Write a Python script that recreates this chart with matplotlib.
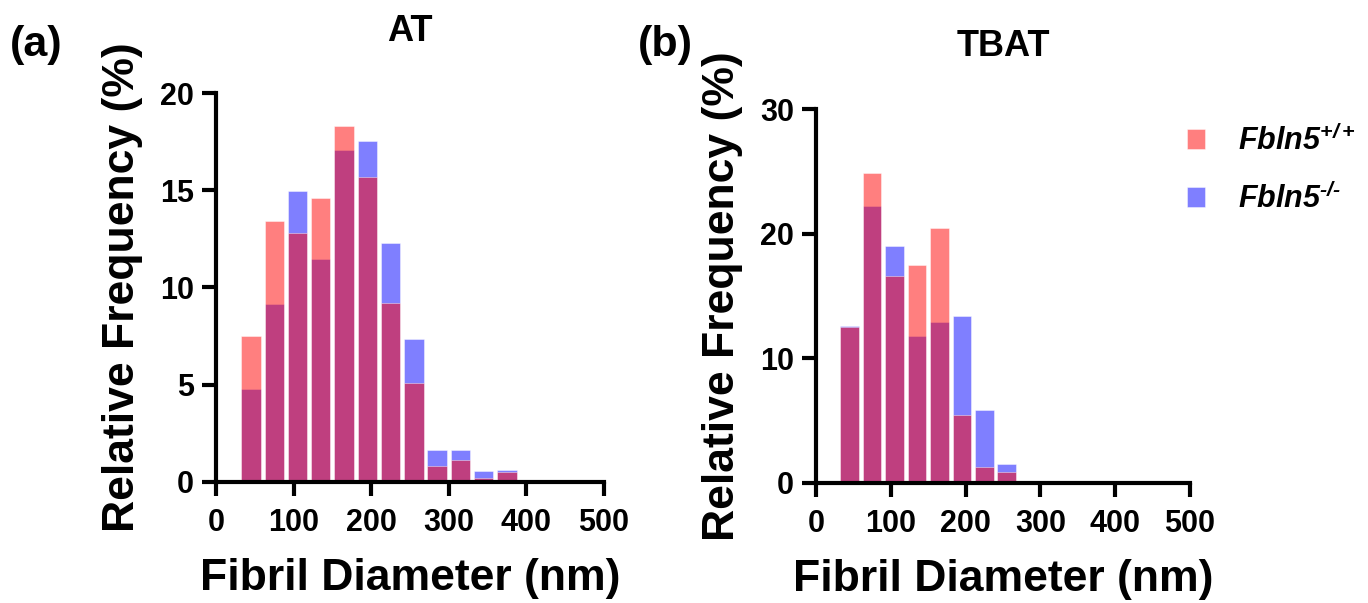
import matplotlib
matplotlib.use("Agg")
import matplotlib.pyplot as plt
import numpy as np

plt.rcParams['font.family'] = ['Liberation Sans', 'DejaVu Sans']
plt.rcParams['font.weight'] = 'bold'
plt.rcParams['mathtext.fontset'] = 'custom'
plt.rcParams['mathtext.it'] = 'Liberation Sans:bold:italic'
plt.rcParams['mathtext.rm'] = 'Liberation Sans:bold:italic'
plt.rcParams['mathtext.bf'] = 'Liberation Sans:bold:italic'
plt.rcParams['mathtext.default'] = 'it'

# bin centers (nm)
bins_at = [45, 75, 105, 135, 165, 195, 225, 255, 285, 315, 345, 375]
wt_at = [7.50, 13.41, 12.81, 14.61, 18.32, 15.67, 9.20, 5.08, 0.79, 1.12, 0.21, 0.52]
ko_at = [4.77, 9.15, 14.97, 11.45, 17.08, 17.56, 12.31, 7.35, 1.61, 1.61, 0.57, 0.58]

bins_tbat = [45, 75, 105, 135, 165, 195, 225, 255]
wt_tbat = [12.50, 24.89, 16.59, 17.47, 20.47, 5.41, 1.26, 0.83]
ko_tbat = [12.60, 22.21, 19.03, 11.75, 12.90, 13.38, 5.86, 1.53]

xticks = [0, 100, 200, 300, 400, 500]
labels = [r'$Fbln5^{+/+}$', '$Fbln5^{\u2010/\u2010}$']
titles = ['AT', 'TBAT']
panel_tags = ['(a)', '(b)']

fig = plt.figure(figsize=(13.68, 6.03), dpi=100)
ax1 = fig.add_axes([0.1579, 0.2012, 0.2836, 0.6441])
ax2 = fig.add_axes([0.5965, 0.1995, 0.2734, 0.6197])

bw = 25
def draw(ax, b, wt, ko, ymax, ystep):
    hk = ax.bar(b, ko, width=bw, color='blue', alpha=0.5, edgecolor='white', linewidth=0.6, label=labels[1])
    hw = ax.bar(b, wt, width=bw, color='red', alpha=0.5, edgecolor='white', linewidth=0.6, label=labels[0])
    ax.set_xlim(0, 500)
    ax.set_ylim(0, ymax)
    ax.set_xticks(xticks)
    ax.set_yticks(np.arange(0, ymax + 1, ystep))
    for s in ['top', 'right']:
        ax.spines[s].set_visible(False)
    for s in ['left', 'bottom']:
        ax.spines[s].set_linewidth(3)
    ax.tick_params(axis='both', width=3, length=10, labelsize=22)
    ax.tick_params(axis='x', pad=9)
    ax.tick_params(axis='y', pad=6)
    for lab in ax.get_xticklabels() + ax.get_yticklabels():
        lab.set_fontweight('bold')
    ax.set_xlabel('Fibril Diameter (nm)', fontsize=32, fontweight='bold', labelpad=14)
    ax.set_ylabel('Relative Frequency (%)', fontsize=32, fontweight='bold', labelpad=12)
    return hw, hk

draw(ax1, bins_at, wt_at, ko_at, 20, 5)
hw, hk = draw(ax2, bins_tbat, wt_tbat, ko_tbat, 30, 10)

ax1.set_title(titles[0], fontsize=26, fontweight='bold', pad=38)
ax2.set_title(titles[1], fontsize=26, fontweight='bold', pad=38)

fig.text(0.007, 0.925, panel_tags[0], fontsize=31, fontweight='bold', va='center')
fig.text(0.4664, 0.925, panel_tags[1], fontsize=31, fontweight='bold', va='center')

ax2.legend([hw, hk], labels, loc='upper left', bbox_to_anchor=(0.992, 0.958),
           frameon=False, fontsize=22, handlelength=0.6, handleheight=0.65,
           handletextpad=1.08, labelspacing=0.85, borderaxespad=0, borderpad=0)

fig.savefig('out.png', dpi=100)
